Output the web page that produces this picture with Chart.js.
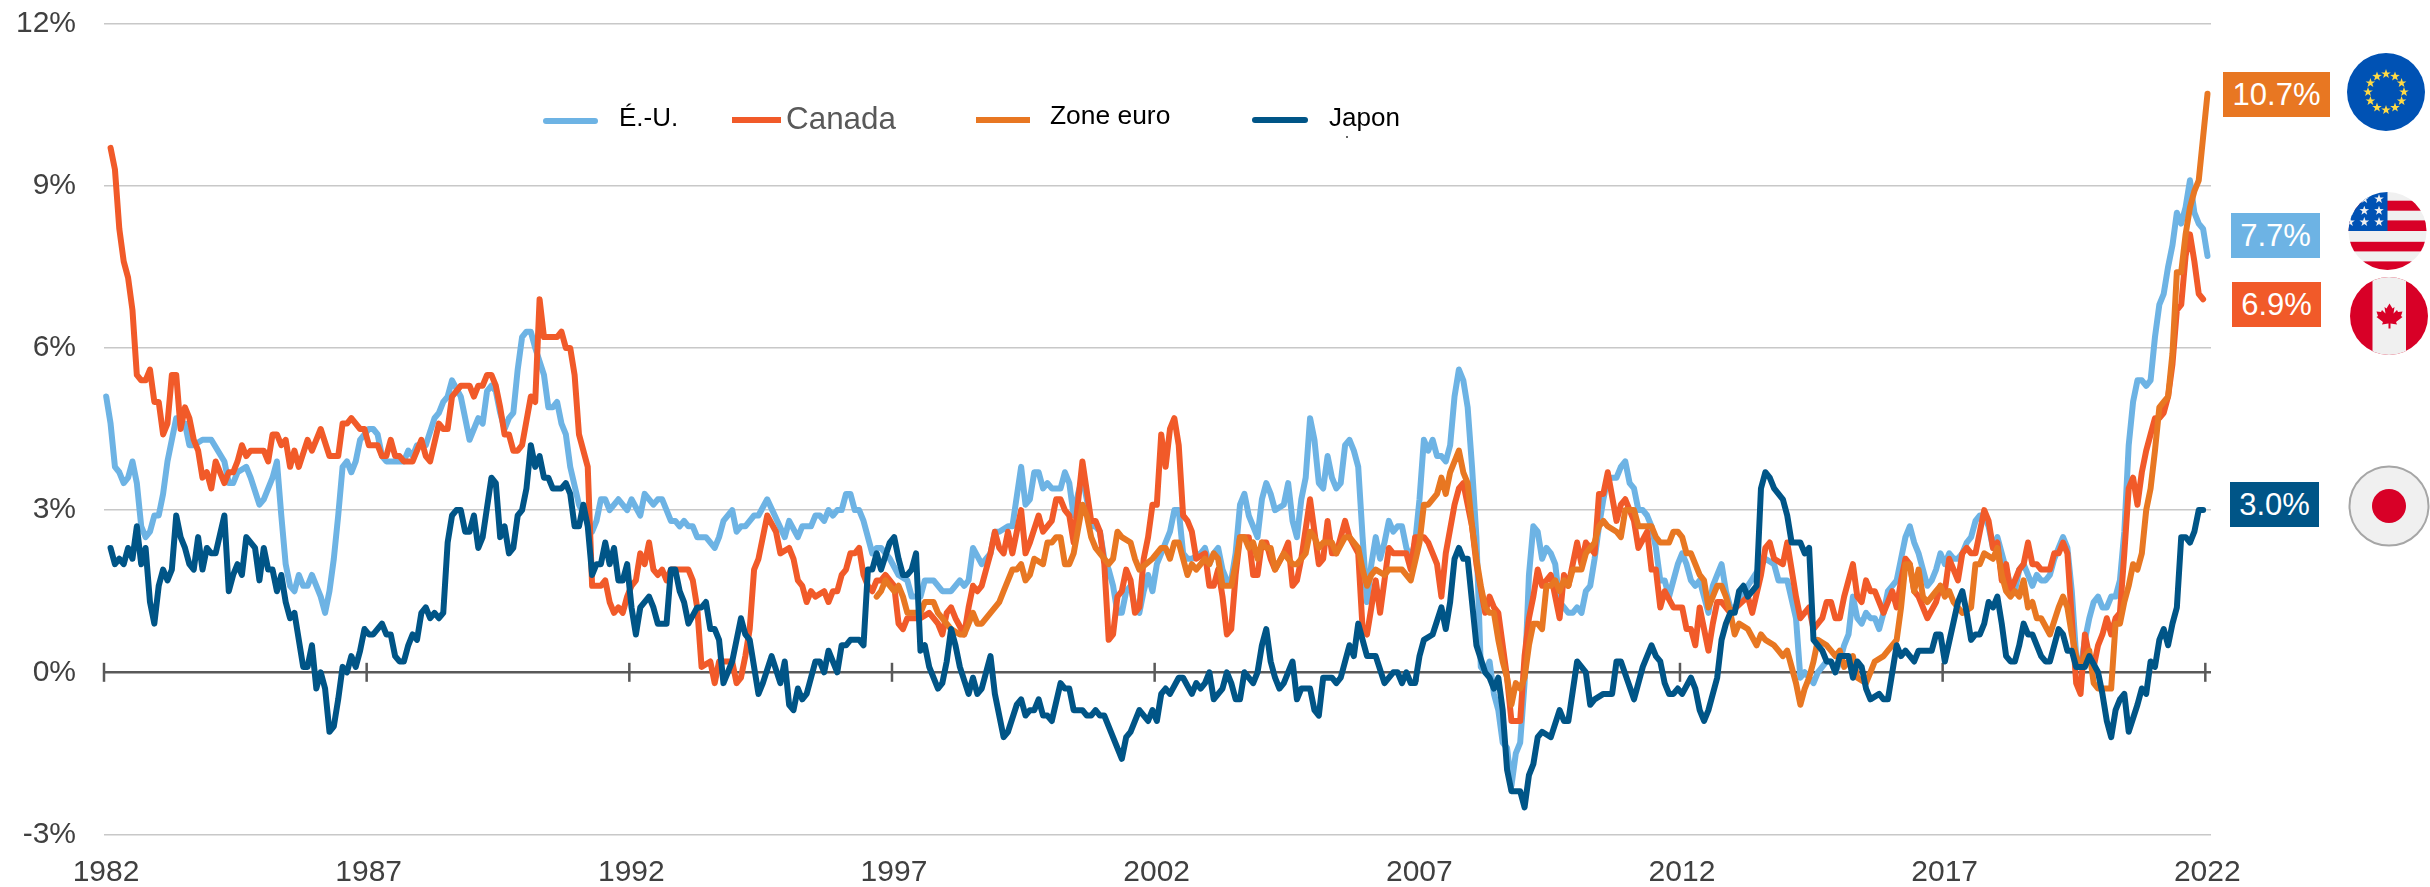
<!DOCTYPE html>
<html lang="fr">
<head>
<meta charset="utf-8">
<title>Inflation</title>
<script src="https://cdn.jsdelivr.net/npm/chart.js@4/dist/chart.umd.min.js"></script>
<style>
  html, body { margin: 0; padding: 0; background: #fff; }
  #wrap { position: relative; width: 2430px; height: 887px; overflow: hidden; font-family: "Liberation Sans", Arial, sans-serif; }
  canvas { position: absolute; left: 0; top: 0; }
  #flags { position: absolute; left: 0; top: 0; }
  .key { position: absolute; height: 6px; }
  .key.round { border-radius: 3px; }
  .leg { position: absolute; white-space: nowrap; line-height: 1; }
  .val { position: absolute; color: #fff; font-size: 31px; text-align: center; height: 45px; line-height: 45px; }
</style>
</head>
<body>
<div id="wrap">
  <canvas id="chart" width="2430" height="887"></canvas>

  <div class="key round" style="left:543px;top:118px;width:55px;background:#6db3e4"></div>
  <div class="leg" style="left:619px;top:104px;font-size:26px;color:#000">É.-U.</div>
  <div class="key" style="left:732px;top:117px;width:49px;background:#f15a29"></div>
  <div class="leg" style="left:786px;top:103px;font-size:31.4px;color:#595959">Canada</div>
  <div class="key" style="left:976px;top:117px;width:54px;background:#e87722"></div>
  <div class="leg" style="left:1050px;top:102px;font-size:26.4px;color:#000">Zone euro</div>
  <div class="key round" style="left:1252px;top:117px;width:56px;background:#005587"></div>
  <div class="leg" style="left:1329px;top:104px;font-size:26px;color:#000">Japon</div>
  <div style="position:absolute;left:1346px;top:136px;width:2px;height:2px;background:#666"></div>

  <div class="val" style="left:2223px;top:72px;width:107px;background:#e87722">10.7%</div>
  <div class="val" style="left:2231px;top:213px;width:89px;background:#6db3e4">7.7%</div>
  <div class="val" style="left:2232px;top:282px;width:89px;background:#f15a29">6.9%</div>
  <div class="val" style="left:2230px;top:482px;width:89px;background:#005587">3.0%</div>

  <svg id="flags" width="2430" height="887" xmlns="http://www.w3.org/2000/svg">
    <defs>
      <clipPath id="usClip"><circle cx="2387.5" cy="231" r="39"/></clipPath>
      <clipPath id="caClip"><circle cx="2389" cy="316" r="39"/></clipPath>
      <polygon id="star" points="0,-5 1.2,-1.6 4.8,-1.5 1.9,0.6 2.9,4 0,2 -2.9,4 -1.9,0.6 -4.8,-1.5 -1.2,-1.6"/>
    </defs>
    <circle cx="2386" cy="92" r="39" fill="#0052b4"/>
    <g id="euStars" fill="#ffda44"></g>
    <g clip-path="url(#usClip)">
      <rect x="2348" y="192" width="80" height="80" fill="#f0f0f0"/>
      <rect x="2348" y="200.7" width="80" height="10" fill="#d80027"/>
      <rect x="2348" y="220.4" width="80" height="10.6" fill="#d80027"/>
      <rect x="2348" y="241.8" width="80" height="9.6" fill="#d80027"/>
      <rect x="2348" y="261.4" width="80" height="9.6" fill="#d80027"/>
      <rect x="2348" y="192" width="39.5" height="39" fill="#0052b4"/>
      <g fill="#f0f0f0">
        <use href="#star" x="2364.3" y="199"/><use href="#star" x="2379" y="199"/>
        <use href="#star" x="2350" y="210.7"/><use href="#star" x="2364.3" y="210.7"/><use href="#star" x="2379" y="210.7"/>
        <use href="#star" x="2350" y="222.1"/><use href="#star" x="2364.3" y="222.1"/><use href="#star" x="2379" y="222.1"/>
      </g>
    </g>
    <g clip-path="url(#caClip)">
      <rect x="2350" y="277" width="80" height="78" fill="#d80027"/>
      <rect x="2372.5" y="277" width="33.5" height="78" fill="#f0f0f0"/>
      <path transform="translate(2389.5,316.5)" fill="#d80027" d="M0,-13 L3,-8 L5,-9.5 L4,-3 L7.5,-6.5 L8.5,-4.5 L13,-5 L11.5,-0.5 L13,0.5 L6.5,5.5 L7.5,8 L1,7 L1,12 L-1,12 L-1,7 L-7.5,8 L-6.5,5.5 L-13,0.5 L-11.5,-0.5 L-13,-5 L-8.5,-4.5 L-7.5,-6.5 L-4,-3 L-5,-9.5 L-3,-8 Z"/>
    </g>
    <circle cx="2389" cy="506" r="39.5" fill="#f0f0f0" stroke="#a6a6a6" stroke-width="2"/>
    <circle cx="2389" cy="506" r="17" fill="#d80027"/>
  </svg>
</div>

<script>
// [months since the first point, inflation %]. Flat runs keep only their ends.
const usPoints = [[0,5.1],[1,4.6],[2,3.8],[3,3.7],[4,3.5],[5,3.6],[6,3.9],[7,3.5],[8,2.7],[9,2.5],[10,2.6],[11,2.9],[12,2.9],[13,3.3],[14,3.9],[16,4.7],[17,4.6],[18,4.6],[19,4.2],[20,4.2],[22,4.3],[24,4.3],[27,3.9],[28,3.5],[29,3.5],[30,3.7],[32,3.8],[33,3.6],[35,3.1],[36,3.2],[38,3.6],[39,3.9],[40,2.9],[41,2.0],[42,1.6],[43,1.5],[44,1.8],[45,1.6],[46,1.6],[47,1.8],[49,1.4],[50,1.1],[51,1.5],[52,2.1],[53,2.9],[54,3.8],[55,3.9],[56,3.7],[57,3.9],[58,4.3],[60,4.5],[61,4.5],[62,4.4],[63,4.0],[64,3.9],[68,3.9],[69,4.1],[70,4.0],[71,4.2],[73,4.2],[75,4.7],[76,4.8],[77,5.0],[78,5.1],[79,5.4],[81,5.1],[82,4.7],[83,4.3],[84,4.5],[85,4.7],[86,4.6],[87,5.2],[88,5.3],[89,5.2],[90,4.8],[91,4.5],[92,4.7],[93,4.8],[94,5.6],[95,6.2],[96,6.3],[97,6.3],[98,6.0],[100,5.5],[101,4.9],[102,4.9],[103,5.0],[104,4.6],[105,4.4],[106,3.8],[108,3.1],[111,2.6],[112,2.8],[113,3.2],[114,3.2],[115,3.0],[117,3.2],[119,3.0],[120,3.2],[122,2.9],[123,3.3],[125,3.1],[126,3.2],[127,3.2],[129,2.8],[130,2.8],[131,2.7],[132,2.8],[133,2.7],[134,2.7],[135,2.5],[137,2.5],[139,2.3],[140,2.5],[141,2.8],[143,3.0],[144,2.6],[145,2.7],[146,2.7],[148,2.9],[149,2.9],[151,3.2],[155,2.5],[156,2.8],[158,2.5],[159,2.7],[161,2.7],[162,2.9],[163,2.9],[164,2.8],[165,3.0],[166,2.9],[167,3.0],[168,3.0],[169,3.3],[170,3.3],[171,3.0],[172,3.0],[173,2.8],[175,2.2],[176,2.3],[177,2.3],[179,2.1],[181,1.8],[183,1.7],[184,1.4],[186,1.4],[187,1.7],[189,1.7],[191,1.5],[193,1.5],[195,1.7],[196,1.6],[197,1.7],[198,2.3],[200,2.0],[202,2.2],[203,2.6],[204,2.6],[206,2.7],[207,2.7],[209,3.8],[210,3.1],[211,3.2],[212,3.7],[213,3.7],[214,3.4],[215,3.5],[216,3.4],[218,3.4],[219,3.7],[220,3.5],[221,2.9],[222,3.3],[223,3.6],[224,3.2],[225,2.7],[226,2.7],[227,2.6],[228,2.1],[229,1.9],[230,1.6],[231,1.1],[232,1.1],[233,1.5],[234,1.6],[235,1.2],[236,1.1],[237,1.5],[238,1.8],[239,1.5],[240,2.0],[241,2.2],[243,2.6],[244,3.0],[245,3.0],[246,2.2],[247,2.1],[248,2.1],[250,2.2],[251,2.3],[252,2.0],[253,2.2],[254,2.3],[255,1.9],[256,1.7],[257,1.7],[258,2.2],[259,3.1],[260,3.3],[261,2.9],[263,2.5],[264,3.2],[265,3.5],[266,3.3],[267,3.0],[269,3.1],[270,3.5],[271,2.8],[272,2.5],[273,3.2],[274,3.6],[275,4.7],[276,4.3],[277,3.5],[278,3.4],[279,4.0],[280,3.6],[281,3.4],[282,3.5],[283,4.2],[284,4.3],[285,4.1],[286,3.8],[287,2.5],[288,1.3],[289,2.0],[290,2.5],[291,2.1],[292,2.4],[293,2.8],[294,2.6],[295,2.7],[296,2.7],[297,2.3],[298,2.1],[299,2.4],[300,3.2],[301,4.3],[302,4.1],[303,4.3],[304,4.0],[305,4.0],[306,3.9],[307,4.2],[308,5.1],[309,5.6],[310,5.4],[311,4.9],[312,3.8],[313,2.5],[314,0.1],[315,0.0],[316,0.2],[317,-0.4],[318,-0.7],[319,-1.3],[320,-1.4],[321,-2.1],[322,-1.5],[323,-1.3],[324,-0.2],[325,1.8],[326,2.7],[327,2.6],[328,2.1],[329,2.3],[330,2.2],[331,2.0],[332,1.3],[333,1.2],[334,1.1],[335,1.1],[336,1.2],[337,1.1],[338,1.5],[339,1.6],[340,2.1],[341,2.7],[342,3.2],[343,3.6],[344,3.6],[345,3.6],[346,3.8],[347,3.9],[348,3.5],[349,3.4],[350,3.0],[351,3.0],[352,2.9],[353,2.7],[354,2.3],[355,1.7],[356,1.7],[357,1.4],[358,1.7],[359,2.0],[360,2.2],[361,2.0],[362,1.7],[363,1.6],[364,1.7],[365,1.4],[366,1.1],[367,1.6],[368,1.8],[369,2.0],[370,1.5],[371,1.2],[372,1.2],[373,1.3],[375,1.6],[379,2.1],[381,2.0],[382,1.7],[384,1.7],[386,1.0],[387,-0.1],[388,0.0],[389,-0.1],[390,-0.2],[391,0.0],[392,0.1],[393,0.2],[394,0.2],[395,0.0],[396,0.2],[397,0.5],[398,0.7],[399,1.4],[400,1.0],[401,0.9],[402,1.1],[403,1.0],[404,1.0],[405,0.8],[406,1.1],[407,1.5],[408,1.6],[409,1.7],[410,2.1],[411,2.5],[412,2.7],[413,2.4],[414,2.2],[415,1.9],[416,1.6],[417,1.7],[418,1.9],[419,2.2],[420,2.0],[421,2.2],[422,2.1],[423,2.1],[424,2.2],[425,2.4],[426,2.5],[427,2.8],[428,2.9],[429,2.9],[430,2.7],[431,2.3],[432,2.5],[433,2.2],[434,1.9],[435,1.6],[436,1.5],[437,1.9],[438,2.0],[439,1.8],[440,1.6],[441,1.8],[442,1.7],[443,1.7],[444,1.8],[445,2.1],[446,2.3],[447,2.5],[448,2.3],[449,1.5],[450,0.3],[451,0.1],[452,0.6],[453,1.0],[454,1.3],[455,1.4],[456,1.2],[457,1.2],[458,1.4],[459,1.4],[460,1.7],[461,2.6],[462,4.2],[463,5.0],[464,5.4],[465,5.4],[466,5.3],[467,5.4],[468,6.2],[469,6.8],[470,7.0],[471,7.5],[472,7.9],[473,8.5],[474,8.3],[475,8.6],[476,9.1],[477,8.5],[478,8.3],[479,8.2],[480,7.7]];

const canadaPoints = [[1,9.7],[2,9.3],[3,8.2],[4,7.6],[5,7.3],[6,6.7],[7,5.5],[8,5.4],[9,5.4],[10,5.6],[11,5.0],[12,5.0],[13,4.4],[14,4.6],[15,5.5],[16,5.5],[17,4.5],[18,4.9],[19,4.7],[20,4.3],[21,4.1],[22,3.6],[23,3.7],[24,3.4],[25,3.9],[27,3.5],[28,3.7],[29,3.7],[30,3.9],[31,4.2],[32,4.0],[33,4.1],[36,4.1],[37,3.9],[38,4.4],[39,4.4],[40,4.2],[41,4.3],[42,3.8],[43,4.1],[44,3.8],[46,4.3],[47,4.1],[49,4.5],[51,4.0],[53,4.0],[54,4.6],[55,4.6],[56,4.7],[58,4.5],[59,4.5],[60,4.2],[62,4.2],[63,4.0],[64,4.0],[65,4.3],[66,4.0],[67,4.0],[68,3.9],[70,3.9],[72,4.3],[73,4.0],[74,3.9],[76,4.6],[77,4.5],[78,4.5],[79,5.1],[81,5.3],[83,5.3],[84,5.1],[85,5.3],[86,5.3],[87,5.5],[88,5.5],[89,5.3],[90,4.9],[91,4.4],[92,4.4],[93,4.1],[94,4.1],[95,4.2],[97,5.1],[98,5.0],[99,6.9],[100,6.2],[103,6.2],[104,6.3],[105,6.0],[106,6.0],[107,5.5],[108,4.4],[110,3.8],[111,1.6],[113,1.6],[114,1.7],[115,1.3],[116,1.1],[117,1.2],[118,1.1],[119,1.4],[120,1.6],[121,1.7],[122,2.2],[123,2.0],[124,2.4],[125,1.9],[126,1.8],[127,1.9],[128,1.7],[129,1.9],[131,1.9],[132,1.9],[133,1.9],[134,1.7],[135,1.2],[136,0.1],[138,0.2],[139,-0.2],[140,0.2],[143,0.2],[144,-0.2],[145,-0.1],[146,0.3],[147,0.8],[148,1.9],[149,2.1],[151,2.9],[153,2.6],[154,2.2],[156,2.3],[157,2.1],[158,1.7],[159,1.6],[160,1.3],[161,1.5],[162,1.4],[164,1.5],[165,1.3],[166,1.5],[167,1.5],[168,1.8],[169,1.9],[170,2.2],[171,2.2],[172,2.3],[173,1.8],[174,1.6],[175,1.5],[176,1.7],[177,1.7],[178,1.8],[180,1.6],[181,0.9],[182,0.8],[183,1.0],[186,1.0],[188,1.1],[189,1.0],[190,0.9],[191,0.7],[192,1.1],[193,1.2],[194,1.0],[196,0.7],[197,1.2],[198,1.6],[199,1.5],[200,1.6],[201,1.9],[202,2.2],[203,2.6],[204,2.3],[205,2.2],[206,2.6],[207,2.2],[209,3.0],[210,2.2],[211,2.4],[213,2.9],[214,2.6],[216,2.8],[217,3.2],[218,3.2],[219,3.0],[220,2.9],[221,2.4],[223,3.9],[225,2.8],[226,2.8],[227,2.6],[228,2.0],[229,0.6],[230,0.7],[231,1.4],[232,1.5],[233,1.9],[234,1.7],[235,1.1],[236,1.2],[237,2.1],[238,2.5],[239,3.1],[240,3.1],[241,4.4],[242,3.8],[243,4.5],[244,4.7],[245,4.2],[246,2.9],[247,2.8],[248,2.6],[249,2.1],[251,2.2],[252,1.6],[253,1.6],[254,1.9],[255,1.4],[256,0.7],[257,0.8],[258,1.8],[259,2.5],[261,2.5],[262,1.8],[263,1.8],[264,2.4],[265,2.4],[266,2.1],[267,1.9],[269,2.2],[270,2.4],[271,1.6],[272,1.7],[273,2.1],[275,3.2],[276,2.6],[277,2.0],[278,2.1],[279,2.8],[280,2.2],[281,2.2],[283,2.8],[284,2.5],[286,2.2],[287,0.8],[288,0.7],[289,1.2],[290,1.7],[291,1.1],[292,1.7],[293,2.3],[294,2.2],[297,2.2],[298,1.9],[299,2.5],[301,2.5],[302,2.4],[304,2.0],[305,1.4],[306,2.2],[308,3.1],[309,3.4],[310,3.5],[312,2.7],[313,2.0],[315,1.1],[316,1.4],[317,1.2],[318,1.1],[319,0.5],[320,-0.1],[321,-0.9],[323,-0.9],[324,0.3],[325,1.0],[326,1.4],[327,1.9],[328,1.6],[330,1.8],[332,1.0],[333,1.8],[334,1.6],[336,2.4],[337,2.0],[338,2.4],[340,2.2],[341,3.3],[342,3.3],[343,3.7],[345,2.8],[346,3.1],[347,3.2],[349,2.8],[350,2.3],[352,2.6],[353,1.9],[354,1.9],[355,1.2],[356,1.5],[358,1.2],[360,1.2],[361,0.8],[362,0.8],[363,0.5],[364,1.2],[366,0.4],[367,0.9],[368,1.3],[369,1.3],[371,1.1],[375,1.4],[376,1.1],[378,1.8],[379,2.3],[380,2.4],[381,2.1],[383,2.0],[384,2.4],[385,1.9],[386,1.4],[387,1.0],[389,1.2],[390,0.8],[392,1.0],[393,1.3],[394,1.3],[395,1.0],[396,1.0],[397,1.4],[398,1.7],[399,2.0],[400,1.4],[401,1.3],[402,1.7],[403,1.5],[404,1.5],[406,1.1],[408,1.5],[409,1.2],[410,1.7],[411,2.1],[412,2.0],[413,1.5],[414,1.4],[416,1.0],[418,1.3],[419,1.6],[420,1.5],[421,2.1],[422,1.9],[423,1.7],[424,2.2],[425,2.3],[426,2.2],[427,2.2],[428,2.6],[429,3.0],[430,2.8],[431,2.3],[432,2.4],[433,1.7],[434,2.0],[435,1.5],[437,1.9],[438,2.0],[439,2.4],[440,2.0],[441,2.0],[442,1.9],[444,1.9],[445,2.2],[446,2.2],[447,2.4],[448,2.2],[449,1.0],[450,-0.2],[451,-0.4],[452,0.7],[453,0.3],[454,0.1],[455,0.5],[456,0.7],[457,1.0],[458,0.7],[459,1.0],[460,1.1],[461,2.2],[462,3.4],[463,3.6],[464,3.1],[465,3.7],[466,4.1],[467,4.4],[468,4.7],[469,4.7],[470,4.8],[471,5.1],[472,5.7],[473,6.7],[474,6.8],[475,7.7],[476,8.1],[477,7.6],[478,7.0],[479,6.9]];

const euroPoints = [[176,1.4],[177,1.5],[178,1.7],[180,1.5],[181,1.6],[182,1.4],[183,1.1],[186,1.1],[187,1.3],[189,1.3],[190,1.1],[193,0.8],[195,0.7],[196,0.7],[198,1.1],[199,0.9],[200,0.9],[202,1.1],[204,1.3],[205,1.5],[207,1.9],[208,1.9],[209,2.0],[210,1.7],[211,1.8],[212,2.1],[214,2.0],[215,2.4],[216,2.4],[217,2.5],[218,2.5],[219,2.0],[220,2.0],[221,2.2],[223,3.1],[224,2.9],[225,2.5],[226,2.3],[227,2.2],[229,2.0],[230,2.1],[231,2.6],[232,2.5],[234,2.4],[235,2.1],[236,1.9],[239,2.1],[241,2.3],[242,2.3],[243,2.1],[244,2.4],[245,2.4],[247,1.8],[248,2.0],[249,1.9],[251,2.1],[252,2.0],[253,2.2],[254,2.1],[255,1.6],[256,1.6],[257,1.6],[258,2.0],[259,2.5],[260,2.5],[261,2.3],[262,2.4],[263,2.1],[264,2.4],[265,2.3],[266,2.3],[267,1.9],[269,2.2],[271,2.0],[272,2.0],[274,2.2],[275,2.6],[276,2.5],[277,2.3],[278,2.4],[280,2.4],[281,2.2],[283,2.5],[284,2.5],[286,2.3],[287,1.9],[288,1.6],[289,1.8],[290,1.9],[292,1.8],[293,1.9],[296,1.9],[298,1.7],[300,2.4],[301,3.1],[302,3.1],[304,3.3],[305,3.6],[306,3.3],[307,3.7],[309,4.1],[310,3.7],[311,3.5],[312,2.7],[313,2.1],[314,1.6],[315,1.2],[316,1.1],[317,1.1],[318,0.6],[319,0.2],[320,-0.1],[321,-0.6],[322,-0.2],[323,-0.3],[324,-0.1],[325,0.5],[326,0.9],[327,0.9],[328,0.8],[329,1.6],[330,1.6],[331,1.7],[332,1.5],[333,1.7],[334,1.6],[335,1.9],[337,1.9],[338,2.2],[339,2.3],[340,2.4],[341,2.7],[342,2.8],[343,2.7],[345,2.6],[346,2.5],[347,3.0],[349,3.0],[350,2.7],[353,2.7],[354,2.5],[355,2.4],[357,2.4],[358,2.6],[359,2.6],[360,2.5],[361,2.2],[362,2.2],[363,2.0],[364,1.8],[365,1.7],[366,1.2],[367,1.4],[368,1.6],[369,1.6],[370,1.4],[371,1.1],[372,0.7],[373,0.9],[375,0.8],[377,0.5],[378,0.7],[379,0.6],[381,0.5],[382,0.4],[383,0.3],[384,0.4],[385,0.1],[386,-0.2],[387,-0.6],[388,-0.3],[389,-0.1],[390,0.2],[391,0.6],[393,0.5],[394,0.4],[395,0.3],[396,0.4],[397,0.1],[398,0.2],[399,0.3],[400,-0.1],[402,-0.2],[403,0.0],[404,0.2],[406,0.3],[407,0.4],[409,0.6],[410,1.2],[411,2.0],[412,2.0],[413,1.5],[414,1.9],[415,1.4],[416,1.3],[418,1.5],[419,1.6],[420,1.4],[421,1.5],[422,1.3],[424,1.1],[426,1.2],[427,2.0],[428,2.0],[429,2.2],[431,2.1],[432,2.3],[433,1.8],[434,1.5],[435,1.4],[436,1.5],[437,1.4],[438,1.7],[439,1.2],[440,1.3],[441,1.0],[442,1.0],[444,0.7],[446,1.2],[447,1.4],[448,1.2],[449,0.7],[450,0.3],[451,0.1],[452,0.3],[453,0.4],[454,-0.2],[455,-0.3],[458,-0.3],[459,0.9],[460,0.9],[461,1.3],[462,1.6],[463,2.0],[464,1.9],[465,2.2],[466,3.0],[467,3.4],[468,4.1],[469,4.9],[470,5.0],[471,5.1],[472,5.9],[473,7.4],[474,7.4],[475,8.1],[476,8.6],[477,8.9],[478,9.1],[479,9.9],[480,10.7]];

const japanPoints = [[1,2.3],[2,2.0],[3,2.1],[4,2.0],[5,2.3],[6,2.1],[7,2.7],[8,2.0],[9,2.3],[10,1.3],[11,0.9],[12,1.6],[13,1.9],[14,1.7],[15,1.9],[16,2.9],[17,2.5],[18,2.3],[19,2.0],[20,1.9],[21,2.5],[22,1.9],[23,2.3],[24,2.2],[25,2.2],[27,2.9],[28,1.5],[29,1.8],[30,2.0],[31,1.8],[32,2.5],[34,2.3],[35,1.7],[36,2.3],[37,1.9],[38,1.9],[39,1.5],[40,1.8],[41,1.3],[42,1.0],[43,1.1],[45,0.1],[46,0.1],[47,0.5],[48,-0.3],[49,0.0],[50,-0.3],[51,-1.1],[52,-1.0],[53,-0.5],[54,0.1],[55,0.0],[56,0.3],[57,0.1],[58,0.4],[59,0.8],[60,0.7],[61,0.7],[63,0.9],[64,0.7],[65,0.7],[66,0.3],[67,0.2],[68,0.2],[69,0.5],[70,0.7],[71,0.6],[72,1.1],[73,1.2],[74,1.0],[75,1.1],[76,1.0],[77,1.1],[78,2.4],[79,2.9],[80,3.0],[81,3.0],[82,2.6],[83,2.6],[84,2.9],[85,2.3],[86,2.5],[88,3.6],[89,3.5],[90,2.5],[91,2.7],[92,2.2],[93,2.3],[94,2.9],[95,3.0],[96,3.4],[97,4.2],[98,3.8],[99,4.0],[100,3.6],[101,3.6],[102,3.4],[104,3.4],[105,3.5],[106,3.3],[107,2.7],[108,2.7],[109,3.1],[110,2.7],[111,1.8],[112,2.0],[113,2.0],[114,2.4],[115,2.0],[116,2.3],[117,1.7],[118,1.7],[119,2.0],[120,1.2],[121,0.7],[122,1.2],[124,1.4],[125,1.2],[126,0.9],[128,0.9],[129,1.9],[130,1.9],[131,1.5],[132,1.3],[133,0.9],[135,1.2],[136,1.2],[137,1.3],[138,0.8],[139,0.8],[140,0.6],[141,-0.2],[142,0.0],[143,0.2],[145,1.0],[146,0.7],[147,0.6],[149,-0.4],[150,-0.2],[152,0.3],[154,-0.2],[155,0.2],[156,-0.6],[157,-0.7],[158,-0.3],[159,-0.5],[160,-0.4],[162,0.2],[163,0.2],[164,0.0],[165,0.4],[167,0.0],[168,0.5],[169,0.5],[170,0.6],[172,0.6],[173,0.5],[174,1.9],[175,1.9],[176,2.2],[177,1.9],[179,2.4],[180,2.5],[181,2.1],[182,1.8],[183,1.8],[184,1.9],[185,2.2],[186,0.4],[187,0.5],[188,0.1],[190,-0.3],[191,-0.2],[192,0.2],[193,0.8],[194,0.5],[195,0.1],[197,-0.4],[198,-0.1],[199,-0.4],[200,-0.3],[202,0.3],[203,-0.4],[205,-1.2],[206,-1.1],[208,-0.6],[209,-0.5],[210,-0.8],[211,-0.7],[212,-0.7],[213,-0.5],[214,-0.8],[215,-0.8],[216,-0.9],[218,-0.2],[219,-0.3],[220,-0.3],[221,-0.7],[223,-0.7],[224,-0.8],[225,-0.8],[226,-0.7],[227,-0.8],[228,-0.8],[232,-1.6],[233,-1.2],[234,-1.1],[236,-0.7],[238,-0.9],[239,-0.7],[240,-0.9],[241,-0.4],[242,-0.3],[243,-0.4],[245,-0.1],[246,-0.1],[248,-0.4],[249,-0.2],[250,-0.3],[251,-0.2],[252,0.0],[253,-0.5],[255,-0.3],[256,0.0],[257,-0.2],[258,-0.5],[259,-0.5],[260,0.0],[262,-0.2],[263,0.0],[264,0.5],[265,0.8],[266,0.2],[267,-0.1],[268,-0.3],[269,-0.2],[271,0.2],[272,-0.5],[273,-0.3],[275,-0.3],[276,-0.7],[277,-0.8],[278,-0.1],[280,-0.1],[281,-0.2],[282,-0.1],[283,0.2],[284,0.5],[285,0.3],[286,0.9],[287,0.6],[288,0.3],[290,0.3],[292,-0.2],[294,0.0],[295,0.0],[296,-0.2],[297,0.0],[298,-0.2],[299,-0.2],[300,0.3],[301,0.6],[303,0.7],[305,1.2],[306,0.8],[307,1.3],[308,2.1],[309,2.3],[310,2.1],[311,2.1],[312,1.3],[313,0.5],[315,0.0],[316,-0.1],[317,-0.3],[318,-0.1],[319,-0.7],[320,-1.8],[321,-2.2],[323,-2.2],[324,-2.5],[325,-1.9],[326,-1.7],[327,-1.2],[328,-1.1],[330,-1.2],[332,-0.7],[333,-0.9],[334,-0.9],[336,0.2],[337,0.1],[338,0.0],[339,-0.6],[340,-0.5],[342,-0.4],[344,-0.4],[345,0.2],[346,0.2],[349,-0.5],[351,0.1],[353,0.5],[354,0.3],[355,0.2],[356,-0.2],[357,-0.4],[358,-0.4],[359,-0.3],[360,-0.4],[362,-0.1],[363,-0.3],[364,-0.7],[365,-0.9],[366,-0.7],[368,-0.1],[369,0.6],[370,0.9],[371,1.1],[372,1.1],[373,1.5],[374,1.6],[375,1.4],[377,1.6],[378,3.4],[379,3.7],[380,3.6],[381,3.4],[383,3.2],[384,2.9],[385,2.4],[387,2.4],[388,2.2],[389,2.3],[390,0.6],[392,0.4],[393,0.2],[394,0.2],[395,0.0],[396,0.3],[397,0.3],[398,0.3],[399,-0.1],[400,0.2],[401,0.1],[402,-0.3],[403,-0.5],[405,-0.4],[406,-0.5],[407,-0.5],[409,0.5],[410,0.3],[411,0.4],[413,0.2],[414,0.4],[417,0.4],[418,0.7],[419,0.7],[420,0.2],[423,1.3],[424,1.5],[425,1.1],[426,0.6],[427,0.7],[428,0.7],[429,0.9],[430,1.3],[431,1.2],[432,1.4],[433,0.9],[434,0.3],[435,0.2],[436,0.2],[437,0.5],[438,0.9],[439,0.7],[440,0.7],[442,0.3],[443,0.2],[444,0.2],[446,0.8],[447,0.7],[448,0.4],[449,0.4],[450,0.1],[452,0.1],[453,0.3],[455,0.0],[456,-0.4],[457,-0.9],[458,-1.2],[459,-0.7],[460,-0.5],[461,-0.4],[462,-1.1],[464,-0.6],[465,-0.3],[466,-0.4],[467,0.2],[468,0.1],[469,0.6],[470,0.8],[471,0.5],[472,0.9],[473,1.2],[474,2.5],[475,2.5],[476,2.4],[477,2.6],[478,3.0],[479,3.0]];

const yearLabels = ['1982', '1987', '1992', '1997', '2002', '2007', '2012', '2017', '2022'];

// twelve stars of the EU flag
const euStars = document.getElementById('euStars');
for (let i = 0; i < 12; i++) {
  const a = (i * Math.PI) / 6;
  const use = document.createElementNS('http://www.w3.org/2000/svg', 'use');
  use.setAttribute('href', '#star');
  use.setAttribute('x', 2386 + 18 * Math.sin(a));
  use.setAttribute('y', 92 - 18 * Math.cos(a));
  euStars.appendChild(use);
}

// points sit mid-month on the axis
const toXY = (points) => points.map(([month, value]) => ({ x: month + 0.5, y: value }));

const lineDefaults = {
  borderWidth: 6,
  pointRadius: 0,
  tension: 0,
  borderCapStyle: 'round',
  borderJoinStyle: 'round',
  clip: false,
};

// little vertical marks on the zero line, one per x tick
const zeroTicks = {
  id: 'zeroTicks',
  beforeDatasetsDraw(chart) {
    const { ctx, scales } = chart;
    const y0 = scales.y.getPixelForValue(0);
    ctx.save();
    ctx.strokeStyle = '#595959';
    ctx.lineWidth = 2.5;
    scales.x.ticks.forEach((t) => {
      const x = scales.x.getPixelForValue(t.value);
      ctx.beginPath();
      ctx.moveTo(x, y0 - 9.5);
      ctx.lineTo(x, y0 + 9.5);
      ctx.stroke();
    });
    ctx.restore();
  },
};

new Chart(document.getElementById('chart').getContext('2d'), {
  type: 'line',
  plugins: [zeroTicks],
  data: {
    datasets: [
      { label: 'Japon', data: toXY(japanPoints), borderColor: '#005587', ...lineDefaults },
      { label: 'Zone euro', data: toXY(euroPoints), borderColor: '#e87722', ...lineDefaults },
      { label: 'Canada', data: toXY(canadaPoints), borderColor: '#f15a29', ...lineDefaults },
      { label: 'É.-U.', data: toXY(usPoints), borderColor: '#6db3e4', ...lineDefaults },
    ],
  },
  options: {
    responsive: false,
    animation: false,
    devicePixelRatio: 1,
    layout: { padding: { top: 23.5, right: 219, bottom: 0, left: 0 } },
    plugins: { legend: { display: false }, tooltip: { enabled: false } },
    scales: {
      x: {
        type: 'linear',
        min: 0,
        max: 481.3,
        grid: { display: false },
        border: { display: false },
        afterBuildTicks(scale) {
          scale.ticks = yearLabels.map((_, i) => ({ value: i * 60 }));
        },
        afterFit(scale) {
          scale.height = 52.5;
        },
        ticks: {
          autoSkip: false,
          maxRotation: 0,
          padding: 12,
          labelOffset: 2,
          color: '#404040',
          font: { family: "'Liberation Sans'", size: 30 },
          callback: (v) => yearLabels[v / 60],
        },
      },
      y: {
        min: -3,
        max: 12,
        border: { display: false },
        afterFit(scale) {
          scale.width = 104;
          scale.paddingTop = 0;
          scale.paddingBottom = 0;
        },
        grid: {
          drawTicks: false,
          color: (ctx) => (ctx.tick.value === 0 ? '#595959' : '#c8c8c8'),
          lineWidth: (ctx) => (ctx.tick.value === 0 ? 2.5 : 1.5),
        },
        ticks: {
          stepSize: 3,
          padding: 28,
          color: '#404040',
          font: { family: "'Liberation Sans'", size: 30 },
          callback: (v) => `${v}%`,
        },
      },
    },
  },
});
</script>
</body>
</html>
